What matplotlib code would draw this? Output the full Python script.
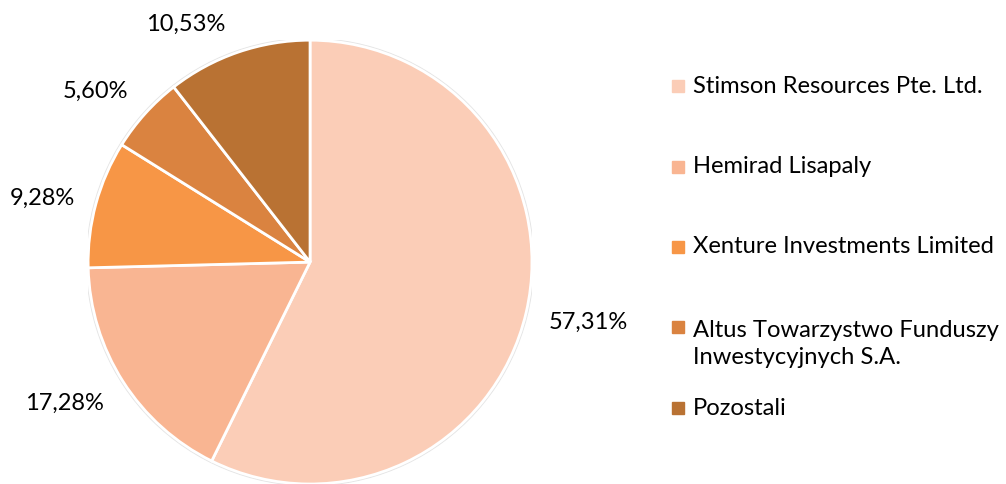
import matplotlib
matplotlib.use('Agg')
import matplotlib.pyplot as plt
from matplotlib.patches import Rectangle, Circle

plt.rcParams['font.family'] = ['Lato', 'DejaVu Sans']

labels = ['Stimson Resources Pte. Ltd.', 'Hemirad Lisapaly', 'Xenture Investments Limited',
          'Altus Towarzystwo Funduszy\nInwestycyjnych S.A.', 'Pozostali']
shares = [57.31, 17.28, 9.28, 5.60, 10.53]
colors = ['#FBCDB7', '#F9B592', '#F79646', '#DA8340', '#B97233']

# where the percentage labels sit (pie radius units), as in the original "best fit"
label_pos = [(1.252, -0.270), (-1.108, -0.635), (-1.205, 0.288), (-0.968, 0.770), (-0.559, 1.072)]

fig = plt.figure(figsize=(10.06, 4.84), dpi=100)
ax = fig.add_axes([0.0875, 0.0, 0.4414, 0.917])

# faint outline around the pie
ax.add_patch(Circle((0, 0), 1.006, facecolor='none', edgecolor='#e4e4e4', lw=1.3, zorder=0))

wedges, texts, autotexts = ax.pie(
    shares, colors=colors, startangle=90, counterclock=False,
    autopct=lambda p: ('%.2f%%' % p).replace('.', ','),
    wedgeprops=dict(edgecolor='white', linewidth=2),
    textprops=dict(fontsize=17, color='black'))
ax.set_xlim(-1, 1)
ax.set_ylim(-1, 1)
ax.set_aspect('equal')
for t, pos in zip(autotexts, label_pos):
    t.set_position(pos)
    t.set_clip_on(False)

# legend, drawn by hand so the two-line entry lines up like the original
legend_y = [0.822, 0.655, 0.490, 0.339, 0.157]
for label, color, y in zip(labels, colors, legend_y):
    two_lines = '\n' in label
    my = y - 0.0145 if two_lines else y
    fig.patches.append(Rectangle((0.668, my - 0.0125), 0.012, 0.025, color=color,
                                 transform=fig.transFigure, figure=fig))
    fig.text(0.689, y, label, fontsize=17.1, va='top' if two_lines else 'center',
             linespacing=1.38)

fig.savefig('out.png', dpi=100)
